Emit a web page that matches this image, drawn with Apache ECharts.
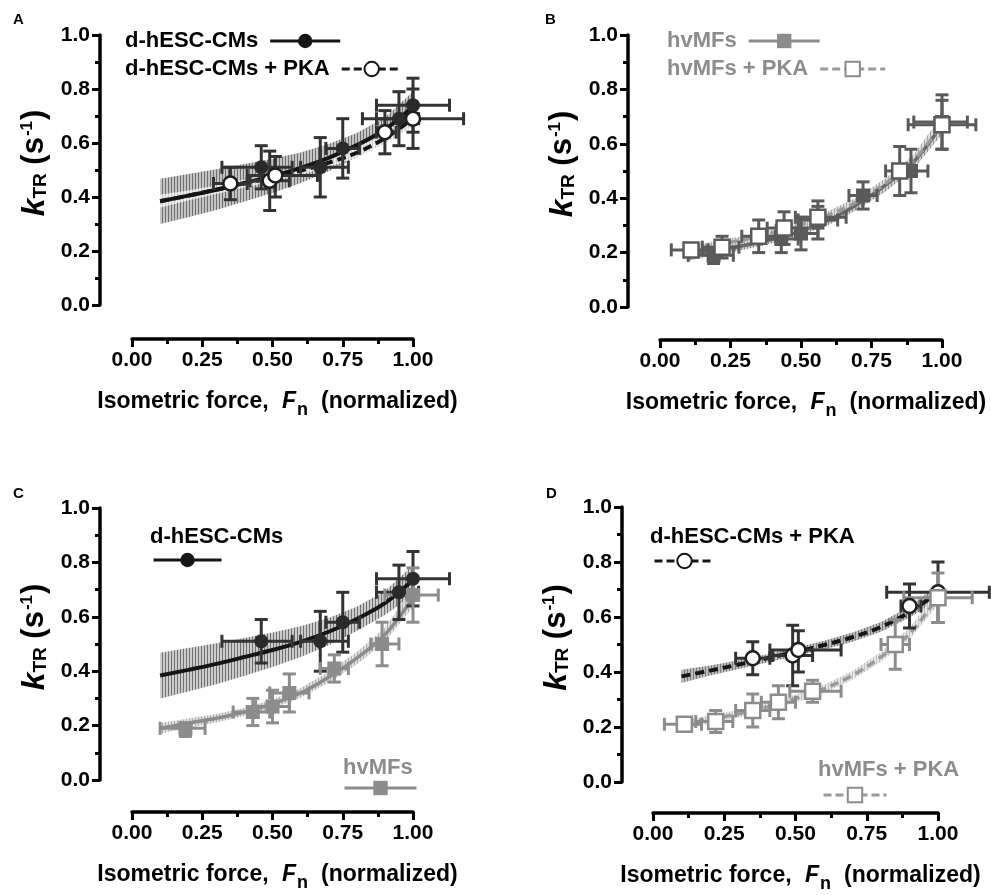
<!DOCTYPE html>
<html><head><meta charset="utf-8">
<script src="https://cdn.jsdelivr.net/npm/echarts@6/dist/echarts.min.js"></script>
<style>html,body{margin:0;padding:0;background:#fff}#c{width:991px;height:895px}</style>
</head><body><div id="c"></div>
<script>
const FONT = '"Liberation Sans", Arial, sans-serif';
const xTickLabels = ['0.00', '0.25', '0.50', '0.75', '1.00'];
const yTickLabels = ['0.0', '0.2', '0.4', '0.6', '0.8', '1.0'];

// fitted curves with confidence bands
const fitX  = [0.1, 0.2, 0.3, 0.4, 0.5, 0.6, 0.7, 0.8, 0.9, 1.0];
const cmFit = [0.384, 0.405, 0.427, 0.452, 0.478, 0.508, 0.545, 0.592, 0.650, 0.735];
const cmLo  = [0.300, 0.325, 0.352, 0.383, 0.415, 0.452, 0.495, 0.548, 0.607, 0.680];
const cmHi  = [0.468, 0.485, 0.503, 0.522, 0.542, 0.565, 0.596, 0.637, 0.694, 0.790];
const pkFit = [0.384, 0.405, 0.427, 0.450, 0.473, 0.498, 0.527, 0.564, 0.618, 0.690];
const pkLo  = [0.360, 0.387, 0.411, 0.435, 0.458, 0.482, 0.510, 0.546, 0.598, 0.662];
const pkHi  = [0.408, 0.424, 0.443, 0.465, 0.488, 0.514, 0.544, 0.582, 0.638, 0.718];
const hvFit = [0.190, 0.209, 0.227, 0.250, 0.280, 0.320, 0.378, 0.448, 0.534, 0.670];
const hvLo  = [0.170, 0.192, 0.211, 0.235, 0.264, 0.302, 0.358, 0.425, 0.508, 0.635];
const hvHi  = [0.210, 0.226, 0.243, 0.265, 0.296, 0.338, 0.398, 0.471, 0.560, 0.705];
const hpFit = [0.208, 0.228, 0.248, 0.273, 0.303, 0.339, 0.388, 0.455, 0.539, 0.673];
const hpLo  = [0.192, 0.213, 0.234, 0.259, 0.289, 0.324, 0.372, 0.437, 0.518, 0.645];
const hpHi  = [0.224, 0.243, 0.262, 0.287, 0.317, 0.354, 0.404, 0.473, 0.560, 0.701];

// data points: d-hESC-CMs
const cmX   = [0.46, 0.67, 0.75, 0.95, 1.00];
const cmY   = [0.51, 0.51, 0.58, 0.69, 0.74];
const cmXLo = [0.32, 0.60, 0.69, 0.87, 0.87];
const cmXHi = [0.57, 0.77, 0.81, 1.02, 1.13];
const cmYLo = [0.43, 0.40, 0.47, 0.59, 0.64];
const cmYHi = [0.59, 0.62, 0.69, 0.79, 0.84];
// d-hESC-CMs + PKA
const pkX   = [0.35, 0.49, 0.51, 0.90, 1.00];
const pkY   = [0.45, 0.46, 0.48, 0.64, 0.69];
const pkXLo = [0.29, 0.42, 0.41, 0.87, 0.82];
const pkXHi = [0.41, 0.56, 0.66, 0.94, 1.18];
const pkYLo = [0.39, 0.35, 0.40, 0.56, 0.58];
const pkYHi = [0.51, 0.57, 0.55, 0.72, 0.80];
// hvMFs
const hvX   = [0.19, 0.43, 0.50, 0.56, 0.72, 0.89, 1.00];
const hvY   = [0.19, 0.25, 0.27, 0.32, 0.41, 0.50, 0.68];
const hvXLo = [0.10, 0.36, 0.44, 0.49, 0.67, 0.85, 0.90];
const hvXHi = [0.26, 0.49, 0.56, 0.63, 0.77, 0.95, 1.09];
const hvYLo = [0.16, 0.20, 0.21, 0.25, 0.36, 0.42, 0.58];
const hvYHi = [0.21, 0.30, 0.33, 0.39, 0.46, 0.58, 0.78];
// hvMFs + PKA
const hpX   = [0.11, 0.22, 0.35, 0.44, 0.56, 0.85, 1.00];
const hpY   = [0.21, 0.22, 0.26, 0.29, 0.33, 0.50, 0.67];
const hpXLo = [0.04, 0.15, 0.29, 0.38, 0.48, 0.80, 0.88];
const hpXHi = [0.17, 0.28, 0.41, 0.50, 0.66, 0.90, 1.12];
const hpYLo = [0.19, 0.18, 0.20, 0.23, 0.29, 0.41, 0.58];
const hpYHi = [0.23, 0.26, 0.32, 0.35, 0.37, 0.59, 0.76];

const names = {cm: 'd-hESC-CMs', pk: 'd-hESC-CMs + PKA', hv: 'hvMFs', hp: 'hvMFs + PKA'};

// ---------- styling / layout ----------
const BLK = '#151515', ERR = '#333333', G1 = '#5a5a5a', G2 = '#8c8c8c', GL = '#9a9a9a';
const layout = [
  {left: 132, top: 35, width: 281, height: 270, xOff: 34, yOff: 32},
  {left: 660, top: 35, width: 282, height: 272, xOff: 33, yOff: 32},
  {left: 132, top: 508, width: 281, height: 272, xOff: 32, yOff: 32},
  {left: 653, top: 507, width: 285, height: 275, xOff: 31, yOff: 31}
];

function hatch(line, bg) {
  const c = document.createElement('canvas');
  c.width = 3; c.height = 4;
  const g = c.getContext('2d');
  g.fillStyle = bg; g.fillRect(0, 0, 3, 4);
  g.fillStyle = line; g.fillRect(0, 0, 1, 4);
  return {image: c, repeat: 'repeat'};
}

const axisBase = {
  axisLine: {show: true, onZero: false, lineStyle: {color: '#000', width: 3.5}},
  axisTick: {show: true, length: 8, lineStyle: {color: '#000', width: 3}},
  minorTick: {show: true, splitNumber: 2, length: 5, lineStyle: {color: '#000', width: 3}},
  splitLine: {show: false},
  minorSplitLine: {show: false}
};
const tickFont = {fontSize: 21, fontWeight: 'bold', fontFamily: FONT, color: '#000'};

function xAxis(i) {
  return Object.assign({}, axisBase, {
    type: 'value', gridIndex: i, min: 0, max: 1, interval: 0.25, offset: layout[i].xOff,
    axisLabel: Object.assign({margin: 11, formatter: (v, idx) => xTickLabels[idx]}, tickFont),
    name: '{a|Isometric force, }{f|F}{s|n}{b|(normalized)}',
    nameLocation: 'middle', nameGap: 51,
    nameTextStyle: {rich: {
      a: {fontSize: 23, fontWeight: 'bold', fontFamily: FONT, color: '#000', lineHeight: 25, verticalAlign: 'top', padding: [0, 0, 0, 10]},
      f: {fontSize: 23, fontWeight: 'bold', fontStyle: 'italic', fontFamily: FONT, color: '#000', lineHeight: 25, verticalAlign: 'top', padding: [0, 0, 0, 7]},
      s: {fontSize: 18, fontWeight: 'bold', fontFamily: FONT, color: '#000', lineHeight: 18, verticalAlign: 'top', padding: [11, 0, 0, 1]},
      b: {fontSize: 23, fontWeight: 'bold', fontFamily: FONT, color: '#000', lineHeight: 25, verticalAlign: 'top', padding: [0, 0, 0, 13]}
    }}
  });
}
function yAxis(i) {
  return Object.assign({}, axisBase, {
    type: 'value', gridIndex: i, min: 0, max: 1, interval: 0.2, offset: layout[i].yOff,
    axisLabel: Object.assign({margin: 10, formatter: (v, idx) => yTickLabels[idx]}, tickFont),
    name: '{k|k}{s|TR}{p| (s}{u|-1}{p|)}',
    nameLocation: 'middle', nameGap: 50,
    nameTextStyle: {rich: {
      k: {fontSize: 32, fontWeight: 'bold', fontStyle: 'italic', fontFamily: FONT, color: '#000', lineHeight: 31, verticalAlign: 'top', padding: [0, 0, 0, 14]},
      s: {fontSize: 19, fontWeight: 'bold', fontFamily: FONT, color: '#000', lineHeight: 19, verticalAlign: 'top', padding: [12, 0, 0, 0]},
      p: {fontSize: 31, fontWeight: 'bold', fontFamily: FONT, color: '#000', lineHeight: 31, verticalAlign: 'top'},
      u: {fontSize: 17, fontWeight: 'bold', fontFamily: FONT, color: '#000', lineHeight: 17, verticalAlign: 'top', padding: [0, 1, 0, 1]}
    }}
  });
}

function band(gi, lo, hi, fill) {
  return {
    type: 'custom', xAxisIndex: gi, yAxisIndex: gi, silent: true, z: 1,
    data: [[fitX[0], lo[0]]],
    renderItem: (p, api) => {
      const pts = [];
      for (let i = 0; i < fitX.length; i++) pts.push(api.coord([fitX[i], hi[i]]));
      for (let i = fitX.length - 1; i >= 0; i--) pts.push(api.coord([fitX[i], lo[i]]));
      return {type: 'polygon', shape: {points: pts}, style: {fill: fill}};
    }
  };
}
function fitLine(gi, name, fit, color, width, type, symbol, itemStyle) {
  return {
    type: 'line', name: name, xAxisIndex: gi, yAxisIndex: gi, silent: true, z: 2,
    data: fitX.map((x, i) => [x, fit[i]]), smooth: 0.35, showSymbol: false,
    symbol: symbol, symbolSize: 13,
    lineStyle: {color: color, width: width, type: type}, itemStyle: itemStyle
  };
}
function errBars(gi, xs, ys, xl, xh, yl, yh, color) {
  return {
    type: 'custom', xAxisIndex: gi, yAxisIndex: gi, silent: true, z: 3, clip: false,
    data: xs.map((x, i) => [x, ys[i], xl[i], xh[i], yl[i], yh[i]]),
    renderItem: (p, api) => {
      const x = api.value(0), y = api.value(1);
      const c = api.coord([x, y]);
      const x1 = api.coord([api.value(2), y])[0], x2 = api.coord([api.value(3), y])[0];
      const y1 = api.coord([x, api.value(4)])[1], y2 = api.coord([x, api.value(5)])[1];
      const cap = 6.5, st = {stroke: color, lineWidth: 3};
      const L = (a, b, cc, d) => ({type: 'line', shape: {x1: a, y1: b, x2: cc, y2: d}, style: st});
      return {type: 'group', children: [
        L(x1, c[1], x2, c[1]), L(x1, c[1] - cap, x1, c[1] + cap), L(x2, c[1] - cap, x2, c[1] + cap),
        L(c[0], y1, c[0], y2), L(c[0] - cap, y1, c[0] + cap, y1), L(c[0] - cap, y2, c[0] + cap, y2)
      ]};
    }
  };
}
function points(gi, xs, ys, symbol, size, itemStyle) {
  return {
    type: 'scatter', xAxisIndex: gi, yAxisIndex: gi, silent: true, z: 4,
    data: xs.map((x, i) => [x, ys[i]]), symbol: symbol, symbolSize: size,
    itemStyle: Object.assign({opacity: 1}, itemStyle)
  };
}

const openCircle = {color: '#fff', borderColor: '#1e1e1e', borderWidth: 2.5};
const series = [
  // A
  band(0, cmLo, cmHi, hatch('#6e6e6e', '#c4c4c4')),
  band(0, pkLo, pkHi, hatch('#cdcdcd', '#ececec')),
  fitLine(0, names.cm, cmFit, BLK, 4, 'solid', 'circle', {color: BLK}),
  fitLine(0, names.pk, pkFit, BLK, 4, [9, 5], 'circle', openCircle),
  errBars(0, cmX, cmY, cmXLo, cmXHi, cmYLo, cmYHi, ERR),
  errBars(0, pkX, pkY, pkXLo, pkXHi, pkYLo, pkYHi, ERR),
  points(0, cmX, cmY, 'circle', 14, {color: '#2a2a2a'}),
  points(0, pkX, pkY, 'circle', 14, openCircle),
  // B
  band(1, hvLo, hvHi, hatch('#888888', '#d0d0d0')),
  band(1, hpLo, hpHi, hatch('#aaaaaa', '#dedede')),
  fitLine(1, names.hv, hvFit, '#6a6a6a', 3.5, 'solid', 'rect', {color: G2}),
  fitLine(1, names.hp, hpFit, GL, 3.5, [9, 5], 'rect', {color: '#fff', borderColor: G2, borderWidth: 2}),
  errBars(1, hvX, hvY, hvXLo, hvXHi, hvYLo, hvYHi, G1),
  errBars(1, hpX, hpY, hpXLo, hpXHi, hpYLo, hpYHi, G1),
  points(1, hvX, hvY, 'rect', 14, {color: G1}),
  points(1, hpX, hpY, 'rect', 15, {color: '#fff', borderColor: G1, borderWidth: 2.5}),
  // C
  band(2, cmLo, cmHi, hatch('#707070', '#cccccc')),
  band(2, hvLo, hvHi, hatch('#b0b0b0', '#e0e0e0')),
  fitLine(2, 'cmC', cmFit, BLK, 4, 'solid', 'circle', {color: BLK}),
  fitLine(2, 'hvC', hvFit, G2, 3.5, 'solid', 'rect', {color: G2}),
  errBars(2, cmX, cmY, cmXLo, cmXHi, cmYLo, cmYHi, ERR),
  errBars(2, hvX, hvY, hvXLo, hvXHi, hvYLo, hvYHi, G2),
  points(2, cmX, cmY, 'circle', 14, {color: '#2a2a2a'}),
  points(2, hvX, hvY, 'rect', 14, {color: G2}),
  // D
  band(3, pkLo, pkHi, hatch('#7a7a7a', '#bdbdbd')),
  band(3, hpLo, hpHi, hatch('#c0c0c0', '#e6e6e6')),
  fitLine(3, 'pkD', pkFit, BLK, 4, [9, 5], 'circle', openCircle),
  fitLine(3, 'hpD', hpFit, GL, 3.5, [9, 5], 'rect', {color: '#fff', borderColor: G2, borderWidth: 2}),
  errBars(3, pkX, pkY, pkXLo, pkXHi, pkYLo, pkYHi, ERR),
  errBars(3, hpX, hpY, hpXLo, hpXHi, hpYLo, hpYHi, G2),
  points(3, pkX, pkY, 'circle', 14, openCircle),
  points(3, hpX, hpY, 'rect', 15, {color: '#fff', borderColor: G2, borderWidth: 2.5})
];

const legText = (color) => ({fontSize: 22, fontWeight: 'bold', fontFamily: FONT, color: color, padding: [0, 7, 0, 0]});
function leg(name, left, top, w, textColor, showText, iconStyle, lineStyle) {
  return {
    left: left, top: top, orient: 'horizontal', align: showText ? 'right' : 'left',
    itemWidth: w, itemHeight: 18, selectedMode: false, padding: 0,
    formatter: showText ? '{name}' : () => '',
    textStyle: legText(textColor),
    data: [{name: name, itemStyle: iconStyle, lineStyle: lineStyle}]
  };
}
const solidBlk = {color: BLK, width: 3, type: 'solid'};
const dashBlk = {color: BLK, width: 3, type: [8, 4]};
const solidGry = {color: G2, width: 3, type: 'solid'};
const dashGry = {color: GL, width: 3, type: [8, 4]};
const fillBlk = {color: BLK, borderWidth: 0};
const openBlk = {color: '#fff', borderColor: BLK, borderWidth: 2};
const fillGry = {color: G2, borderWidth: 0};
const openGry = {color: '#fff', borderColor: G2, borderWidth: 2};

const legends = [
  leg(names.cm, 125, 30, 70, '#000', true, fillBlk, solidBlk),
  leg(names.pk, 125, 58, 60, '#000', true, openBlk, dashBlk),
  leg(names.hv, 667, 30, 71, G2, true, fillGry, solidGry),
  leg(names.hp, 667, 58, 65, G2, true, openGry, dashGry),
  leg(names.cm, 152, 551, 68, '#000', false, fillBlk, solidBlk),
  leg(names.hv, 343, 779, 72, G2, false, fillGry, solidGry),
  leg(names.pk, 653, 552, 60, '#000', false, openBlk, dashBlk),
  leg(names.hp, 822, 786, 63, G2, false, openGry, dashGry)
];

const panelFont = {fontSize: 15, fontWeight: 'bold', fontFamily: FONT, color: '#000'};
const legFont = (c) => ({fontSize: 22, fontWeight: 'bold', fontFamily: FONT, color: c});
const titles = [
  {text: 'A', left: 13, top: 12, padding: 0, textStyle: panelFont},
  {text: 'B', left: 545, top: 12, padding: 0, textStyle: panelFont},
  {text: 'C', left: 13, top: 486, padding: 0, textStyle: panelFont},
  {text: 'D', left: 546, top: 486, padding: 0, textStyle: panelFont},
  {text: names.cm, left: 150, top: 526, padding: 0, textStyle: legFont('#000')},
  {text: names.hv, left: 343, top: 757, padding: 0, textStyle: legFont(G2)},
  {text: names.pk, left: 650, top: 526, padding: 0, textStyle: legFont('#000')},
  {text: names.hp, left: 818, top: 759, padding: 0, textStyle: legFont(G2)}
];

const chart = echarts.init(document.getElementById('c'), null, {renderer: 'canvas'});
chart.setOption({
  animation: false,
  backgroundColor: '#fff',
  title: titles,
  legend: legends,
  grid: layout.map(g => ({left: g.left, top: g.top, width: g.width, height: g.height, containLabel: false})),
  xAxis: [0, 1, 2, 3].map(xAxis),
  yAxis: [0, 1, 2, 3].map(yAxis),
  series: series
});
</script></body></html>
